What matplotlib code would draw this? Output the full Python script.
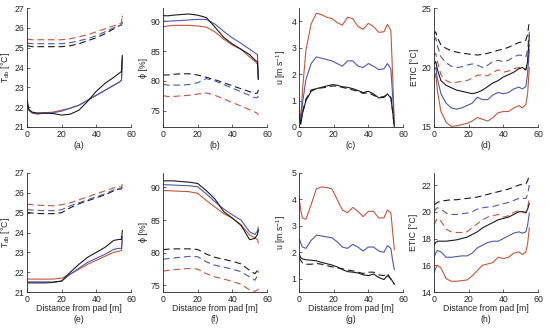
import matplotlib
matplotlib.use("Agg")
import matplotlib.pyplot as plt

plt.rcParams["font.family"] = ["Liberation Sans", "DejaVu Sans"]
plt.rcParams["mathtext.fontset"] = "custom"
plt.rcParams["mathtext.rm"] = "Liberation Sans"
plt.rcParams["mathtext.it"] = "Liberation Sans:italic"

BLACK = "#1a1a1a"
BLUE = "#4e58b0"
RED = "#c4563c"
GREY = "#262626"

# sample positions along the tunnel [m]
x_smooth = [0, 1, 3, 6, 10, 15, 20, 25, 30, 35, 40, 45, 50, 53, 54.5, 55]
x_wavy = [0, 1, 2, 4, 7, 10, 13, 16, 19, 22, 25, 28, 31, 34, 37, 40, 43, 46, 49, 51, 53, 54, 55]

# (a) dry bulb temperature, top row
a_sk = [22.4, 21.9, 21.75, 21.7, 21.7, 21.68, 21.6, 21.65, 21.85, 22.3, 22.8, 23.2, 23.5, 23.7, 23.8, 24.6]
a_sb = [22.3, 21.85, 21.7, 21.65, 21.7, 21.72, 21.8, 21.95, 22.1, 22.35, 22.6, 22.85, 23.1, 23.25, 23.35, 24.5]
a_sr = [22.2, 21.85, 21.72, 21.7, 21.72, 21.75, 21.85, 21.95, 22.1, 22.35, 22.6, 22.85, 23.1, 23.25, 23.35, 24.4]
a_dk = [25.1, 25.08, 25.05, 25.05, 25.05, 25.05, 25.05, 25.1, 25.2, 25.35, 25.5, 25.7, 25.95, 26.1, 26.15, 26.3]
a_db = [25.25, 25.22, 25.2, 25.2, 25.2, 25.2, 25.2, 25.25, 25.35, 25.45, 25.6, 25.8, 26.0, 26.1, 26.15, 26.6]
a_dr = [25.45, 25.42, 25.4, 25.4, 25.4, 25.4, 25.4, 25.45, 25.55, 25.65, 25.8, 25.95, 26.1, 26.2, 26.25, 26.7]

# (b) relative humidity
b_sk = [91.0, 90.9, 90.9, 91.0, 91.1, 91.2, 91.0, 90.6, 89.0, 87.3, 86.2, 85.3, 84.4, 83.5, 83.2, 80.3]
b_sb = [90.0, 90.0, 90.0, 90.05, 90.1, 90.2, 90.3, 90.3, 89.5, 88.3, 87.2, 86.3, 85.3, 84.7, 84.4, 80.3]
b_sr = [89.0, 89.1, 89.2, 89.3, 89.3, 89.3, 89.2, 89.0, 88.2, 87.0, 86.0, 85.3, 84.0, 83.3, 82.8, 80.3]
b_dk = [81.0, 81.0, 81.0, 81.1, 81.2, 81.2, 81.0, 80.6, 80.2, 79.7, 79.2, 78.7, 78.2, 77.9, 78.0, 78.5]
b_db = [79.5, 79.4, 79.3, 79.3, 79.3, 79.4, 79.7, 80.4, 80.0, 79.4, 78.8, 78.2, 77.6, 77.2, 77.2, 77.5]
b_dr = [77.5, 77.5, 77.4, 77.4, 77.5, 77.6, 77.8, 78.0, 77.6, 77.0, 76.4, 75.8, 75.2, 74.8, 74.6, 74.3]

# (c) air speed
c_sr = [0.9, 0.2, 1.4, 2.9, 3.9, 4.3, 4.25, 4.15, 4.1, 3.95, 3.85, 4.15, 4.1, 3.8, 3.7, 3.92, 3.8, 3.58, 3.6, 3.88, 3.65, 2.0, 0.1]
c_sb = [0.7, 0.2, 0.9, 1.8, 2.4, 2.65, 2.6, 2.55, 2.5, 2.4, 2.3, 2.5, 2.5, 2.3, 2.25, 2.4, 2.3, 2.17, 2.2, 2.4, 2.2, 1.2, 0.1]
c_sk = [0.5, 0.1, 0.5, 1.0, 1.35, 1.45, 1.5, 1.55, 1.6, 1.58, 1.52, 1.5, 1.45, 1.38, 1.3, 1.35, 1.25, 1.1, 1.12, 1.25, 1.1, 0.6, 0.0]
c_dk = [0.5, 0.15, 0.55, 1.05, 1.4, 1.45, 1.48, 1.5, 1.55, 1.55, 1.5, 1.45, 1.4, 1.35, 1.27, 1.3, 1.2, 1.12, 1.15, 1.22, 1.12, 0.6, 0.0]

# (d) ETIC
d_dk = [22.8, 23.0, 22.5, 21.9, 21.6, 21.4, 21.3, 21.2, 21.15, 21.1, 21.05, 21.1, 21.2, 21.3, 21.45, 21.55, 21.7, 21.9, 22.1, 22.15, 22.3, 22.8, 23.9]
d_db = [22.3, 22.5, 21.8, 20.9, 20.4, 20.1, 20.0, 20.05, 20.2, 20.3, 20.2, 20.0, 20.2, 20.5, 20.6, 20.5, 20.6, 20.9, 21.05, 21.0, 20.9, 21.5, 23.0]
d_dr = [21.0, 21.2, 20.5, 19.4, 18.9, 18.7, 18.75, 18.85, 18.9, 19.1, 19.35, 19.4, 19.3, 19.6, 19.8, 19.6, 19.7, 19.9, 20.0, 19.9, 19.8, 20.5, 22.0]
d_sk = [20.3, 20.5, 19.8, 18.9, 18.5, 18.3, 18.1, 18.0, 17.9, 17.8, 17.9, 18.1, 18.4, 18.7, 18.9, 19.2, 19.4, 19.6, 19.9, 20.0, 19.8, 20.5, 22.7]
d_sb = [19.8, 20.0, 19.0, 17.8, 17.0, 16.6, 16.5, 16.6, 16.8, 17.0, 17.5, 17.3, 17.3, 17.7, 17.9, 17.8, 17.9, 18.2, 18.35, 18.2, 18.4, 19.5, 21.5]
d_sr = [19.0, 19.5, 18.0, 16.3, 15.4, 15.05, 15.1, 15.2, 15.3, 15.5, 15.8, 15.65, 15.5, 15.8, 16.2, 16.3, 16.3, 16.6, 16.8, 16.6, 16.9, 17.8, 20.0]

# (e) dry bulb temperature, bottom row
e_sk = [21.5, 21.5, 21.5, 21.5, 21.5, 21.5, 21.55, 22.0, 22.4, 22.75, 23.0, 23.25, 23.6, 23.65, 23.65, 24.1]
e_sb = [21.45, 21.45, 21.45, 21.45, 21.45, 21.48, 21.55, 21.9, 22.2, 22.5, 22.7, 22.9, 23.15, 23.2, 23.2, 23.8]
e_sr = [21.65, 21.65, 21.65, 21.65, 21.65, 21.65, 21.7, 21.9, 22.15, 22.4, 22.6, 22.8, 23.0, 23.05, 23.1, 23.6]
e_dk = [25.0, 25.0, 24.98, 24.96, 24.95, 24.95, 25.0, 25.25, 25.45, 25.6, 25.75, 25.9, 26.1, 26.2, 26.2, 26.5]
e_db = [25.15, 25.15, 25.13, 25.12, 25.1, 25.1, 25.15, 25.35, 25.5, 25.65, 25.8, 25.95, 26.15, 26.2, 26.2, 26.3]
e_dr = [25.42, 25.42, 25.4, 25.38, 25.36, 25.35, 25.4, 25.5, 25.65, 25.8, 25.95, 26.1, 26.25, 26.3, 26.3, 26.45]

# (f) relative humidity
f_sk = [91.0, 91.0, 91.0, 91.0, 90.9, 90.8, 90.6, 89.5, 88.2, 86.3, 85.3, 84.2, 82.0, 82.2, 82.8, 83.5]
f_sb = [90.4, 90.4, 90.4, 90.35, 90.3, 90.25, 90.1, 89.0, 87.8, 86.7, 85.8, 85.0, 83.2, 82.8, 83.3, 83.9]
f_sr = [89.5, 89.5, 89.5, 89.45, 89.4, 89.35, 89.1, 88.0, 87.0, 86.0, 85.3, 84.3, 82.7, 82.3, 82.0, 81.5]
f_dk = [80.5, 80.5, 80.55, 80.6, 80.6, 80.6, 80.5, 79.8, 79.3, 79.0, 78.7, 78.3, 77.3, 76.8, 77.3, 77.8]
f_db = [79.0, 79.05, 79.1, 79.2, 79.3, 79.45, 79.4, 78.6, 78.1, 77.8, 77.5, 77.1, 76.3, 75.8, 76.5, 77.2]
f_dr = [77.2, 77.25, 77.3, 77.4, 77.5, 77.6, 77.5, 76.8, 76.3, 76.0, 75.6, 75.2, 74.3, 74.1, 74.3, 74.5]

# (g) air speed
g_sr = [4.1, 3.6, 3.3, 3.25, 3.8, 4.4, 4.47, 4.45, 4.4, 4.0, 3.6, 3.5, 3.7, 3.55, 3.35, 3.55, 3.55, 3.3, 3.3, 3.6, 3.5, 2.8, 2.1]
g_sb = [2.55, 2.35, 2.2, 2.15, 2.45, 2.65, 2.62, 2.58, 2.55, 2.4, 2.2, 2.15, 2.3, 2.2, 2.05, 2.2, 2.2, 2.05, 2.0, 2.25, 2.15, 1.7, 1.35]
g_sk = [1.95, 1.8, 1.75, 1.72, 1.7, 1.68, 1.62, 1.57, 1.52, 1.45, 1.35, 1.27, 1.25, 1.22, 1.15, 1.12, 1.18, 1.05, 0.97, 1.12, 1.0, 0.9, 0.8]
g_dk = [1.8, 1.7, 1.6, 1.55, 1.55, 1.58, 1.55, 1.5, 1.45, 1.42, 1.38, 1.33, 1.3, 1.25, 1.2, 1.25, 1.25, 1.15, 1.12, 1.2, 0.98, 0.85, 0.8]

# (h) ETIC
h_dk = [20.5, 20.6, 20.7, 20.8, 20.85, 20.9, 20.9, 20.95, 21.0, 21.05, 21.1, 21.2, 21.3, 21.4, 21.5, 21.6, 21.7, 21.85, 22.0, 22.05, 22.1, 22.3, 22.8]
h_db = [20.0, 20.2, 20.3, 20.2, 19.9, 19.8, 19.8, 19.85, 19.9, 20.0, 20.2, 20.3, 20.35, 20.4, 20.5, 20.6, 20.7, 20.85, 21.0, 21.0, 21.0, 21.3, 22.0]
h_dr = [19.0, 19.3, 19.5, 19.3, 18.7, 18.5, 18.45, 18.45, 18.5, 18.8, 19.1, 19.4, 19.6, 19.7, 19.8, 19.6, 19.7, 19.95, 20.1, 20.0, 19.9, 20.3, 21.0]
h_sk = [17.5, 17.7, 17.8, 17.8, 17.8, 17.85, 17.9, 18.0, 18.1, 18.3, 18.5, 18.8, 19.0, 19.2, 19.4, 19.5, 19.6, 19.8, 20.0, 20.0, 19.95, 20.2, 20.6]
h_sb = [16.6, 16.9, 17.1, 17.0, 16.6, 16.6, 16.65, 16.7, 16.7, 16.9, 17.3, 17.5, 17.7, 17.8, 17.8, 18.0, 18.2, 18.4, 18.5, 18.4, 18.5, 19.0, 19.9]
h_sr = [15.4, 15.8, 16.0, 15.8, 15.0, 14.8, 14.8, 14.85, 14.9, 15.2, 15.6, 16.0, 16.1, 16.2, 16.6, 16.5, 16.6, 16.9, 17.0, 16.8, 17.0, 17.6, 18.8]

ylabels = ["T$_{\\rm db}$ [°C]", "ϕ [%]", "u [m s$^{-1}$]", "ETIC [°C]"]
panel_tags = ["(a)", "(b)", "(c)", "(d)", "(e)", "(f)", "(g)", "(h)"]

panels = [
    (x_smooth, [(a_dk, BLACK, "--"), (a_db, BLUE, "--"), (a_dr, RED, "--"),
                (a_sr, RED, "-"), (a_sb, BLUE, "-"), (a_sk, BLACK, "-")],
     (21, 27), [21, 22, 23, 24, 25, 26, 27]),
    (x_smooth, [(b_dk, BLACK, "--"), (b_db, BLUE, "--"), (b_dr, RED, "--"),
                (b_sr, RED, "-"), (b_sb, BLUE, "-"), (b_sk, BLACK, "-")],
     (72.3, 92.2), [75, 80, 85, 90]),
    (x_wavy, [(c_dk, BLACK, "--"), (c_sr, RED, "-"), (c_sb, BLUE, "-"), (c_sk, BLACK, "-")],
     (0, 4.5), [0, 1, 2, 3, 4]),
    (x_wavy, [(d_dk, BLACK, "--"), (d_db, BLUE, "--"), (d_dr, RED, "--"),
              (d_sr, RED, "-"), (d_sb, BLUE, "-"), (d_sk, BLACK, "-")],
     (15, 25), [15, 20, 25]),
    (x_smooth, [(e_dk, BLACK, "--"), (e_db, BLUE, "--"), (e_dr, RED, "--"),
                (e_sr, RED, "-"), (e_sb, BLUE, "-"), (e_sk, BLACK, "-")],
     (21, 27), [21, 22, 23, 24, 25, 26, 27]),
    (x_smooth, [(f_dk, BLACK, "--"), (f_db, BLUE, "--"), (f_dr, RED, "--"),
                (f_sr, RED, "-"), (f_sb, BLUE, "-"), (f_sk, BLACK, "-")],
     (74.0, 92.2), [75, 80, 85, 90]),
    (x_wavy, [(g_dk, BLACK, "--"), (g_sr, RED, "-"), (g_sb, BLUE, "-"), (g_sk, BLACK, "-")],
     (0.5, 5), [1, 2, 3, 4, 5]),
    (x_wavy, [(h_dk, BLACK, "--"), (h_db, BLUE, "--"), (h_dr, RED, "--"),
              (h_sr, RED, "-"), (h_sb, BLUE, "-"), (h_sk, BLACK, "-")],
     (14, 22.9), [14, 16, 18, 20, 22]),
]

fig = plt.figure(figsize=(5.5, 3.29), dpi=100)
lefts = [27, 163, 299, 434]
axes_w = 104 / 550
axes_h = 119 / 329
bottoms = [(329 - 127) / 329, (329 - 292) / 329]

for i, (xs, curves, ylim, yticks) in enumerate(panels):
    row, col = divmod(i, 4)
    ax = fig.add_axes([lefts[col] / 550, bottoms[row], axes_w, axes_h])
    for ys, color, ls in curves:
        line, = ax.plot(xs, ys, color=color, linestyle=ls, linewidth=0.8)
        if ls == "--":
            line.set_dashes((6, 3.5))
    ax.set_xlim(0, 60)
    ax.set_ylim(*ylim)
    ax.set_xticks([0, 20, 40, 60])
    ax.set_yticks(yticks)
    for side in ["top", "right"]:
        ax.spines[side].set_visible(False)
    for side in ["left", "bottom"]:
        ax.spines[side].set_color(GREY)
        ax.spines[side].set_linewidth(0.6)
    ax.tick_params(direction="in", length=2, width=0.5, labelsize=6.3,
                   colors=GREY, pad=2)
    ax.set_ylabel(ylabels[col], fontsize=6.3, labelpad=2, color=GREY)
    if row == 0:
        ax.text(0.5, -0.155, panel_tags[i], transform=ax.transAxes,
                ha="center", va="center", fontsize=6.3, color=GREY)
    else:
        ax.text(0.5, -0.135, "Distance from pad [m]", transform=ax.transAxes,
                ha="center", va="center", fontsize=6.3, color=GREY)
        ax.text(0.5, -0.235, panel_tags[i], transform=ax.transAxes,
                ha="center", va="center", fontsize=6.3, color=GREY)

fig.savefig("out.png", dpi=100)
